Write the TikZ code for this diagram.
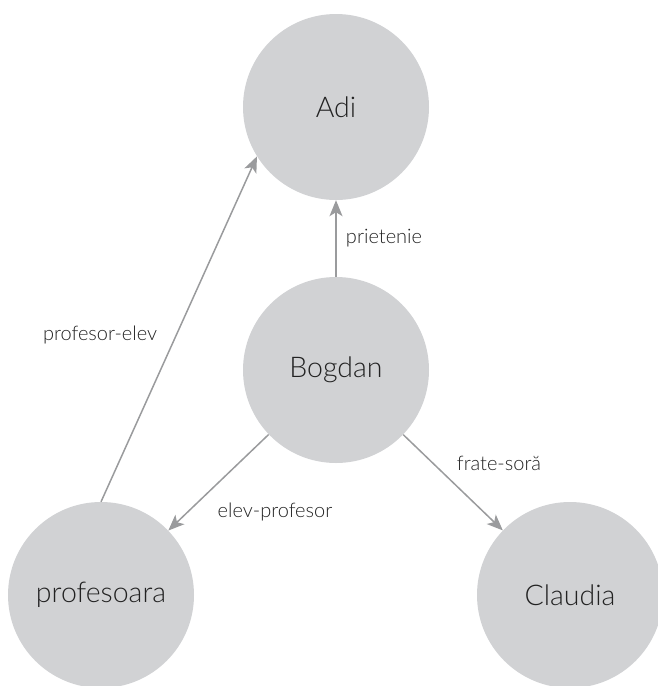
\documentclass[tikz,border=0pt]{standalone}
\usepackage{fontspec}
\setmainfont{Lato}[UprightFont=* Light]
\usetikzlibrary{arrows.meta}
\definecolor{circfill}{HTML}{D1D2D4}
\definecolor{arrowgray}{HTML}{9A9B9D}
\definecolor{textgray}{HTML}{222222}
\tikzset{
  circ/.style={circle, fill=circfill, draw=none, minimum size=186pt, inner sep=0pt,
    text=textgray, font=\fontsize{28.5}{32}\selectfont},
  conn/.style={draw=arrowgray, line width=1.5pt,
    -{Stealth[length=16pt,width=13pt,inset=4pt]}},
  lbl/.style={text=textgray, font=\fontsize{20}{23}\selectfont, inner sep=0pt, anchor=base}
}
\begin{document}
\begin{tikzpicture}[x=1pt,y=-1pt]
\useasboundingbox (0,0) rectangle (658,686);
\begin{scope}
\clip (0,0) rectangle (658,686);
\node[circ] (adi) at (336,107) {Adi};
\node[circ] (bogdan) at (336,370) {Bogdan};
\node[circ] (prof) at (101,595) {profesoara};
\node[circ] (claudia) at (570,595) {Claudia};
\end{scope}
\draw[conn] (bogdan.north) -- (adi.south);
\draw[conn] (prof.north) -- (adi.212);
\draw[conn] (bogdan) -- (prof);
\draw[conn] (bogdan) -- (claudia);
\node[lbl] (l1) at (384,243) {prietenie};
\node[lbl] (l2) at (100,340) {profesor-elev};
\node[lbl] (l3) at (275,517) {elev-profesor};
\node[lbl] (l4) at (499,470) {frate-soră};
\end{tikzpicture}
\end{document}
